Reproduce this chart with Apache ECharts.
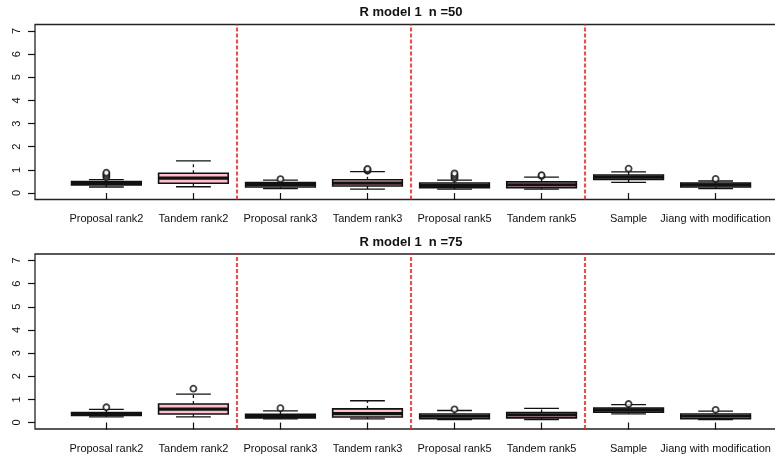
<!DOCTYPE html>
<html>
<head>
<meta charset="utf-8">
<script src="https://cdn.jsdelivr.net/npm/echarts@6/dist/echarts.min.js"></script>
<style>
  html, body { margin: 0; padding: 0; background: #fff; }
  #chart { width: 775px; height: 457px; }
</style>
</head>
<body>
<div id="chart"></div>
<script>
// Method names along the x axis (positions 1..8)
const categories = [
  'Proposal rank2', 'Tandem rank2', 'Proposal rank3', 'Tandem rank3',
  'Proposal rank5', 'Tandem rank5', 'Sample', 'Jiang with modification'
];
const yTicks = [0, 1, 2, 3, 4, 5, 6, 7];
const groupSeparators = [2.5, 4.5, 6.5];

// n = 50: five-number summaries per method
const n50Low    = [0.26, 0.27, 0.19, 0.17, 0.17, 0.17, 0.46, 0.19];
const n50Q1     = [0.35, 0.42, 0.26, 0.30, 0.23, 0.23, 0.59, 0.26];
const n50Median = [0.42, 0.64, 0.36, 0.43, 0.33, 0.35, 0.69, 0.35];
const n50Q3     = [0.50, 0.855, 0.45, 0.57, 0.43, 0.48, 0.78, 0.43];
const n50High   = [0.58, 1.39, 0.56, 0.92, 0.56, 0.69, 0.91, 0.52];
// outliers as [method position, value]
const n50Outliers = [
  [1, 0.68], [1, 0.75], [1, 0.82], [1, 0.88],
  [3, 0.60],
  [4, 0.96], [4, 1.00], [4, 1.04],
  [5, 0.64], [5, 0.71], [5, 0.78], [5, 0.85],
  [6, 0.74], [6, 0.77],
  [7, 1.05],
  [8, 0.61]
];

// n = 75
const n75Low    = [0.24, 0.24, 0.16, 0.16, 0.13, 0.13, 0.37, 0.13];
const n75Q1     = [0.30, 0.37, 0.20, 0.24, 0.17, 0.20, 0.45, 0.16];
const n75Median = [0.37, 0.58, 0.29, 0.38, 0.27, 0.33, 0.55, 0.27];
const n75Q3     = [0.43, 0.80, 0.36, 0.59, 0.37, 0.43, 0.63, 0.37];
const n75High   = [0.57, 1.23, 0.50, 0.94, 0.52, 0.61, 0.77, 0.49];
const n75Outliers = [
  [1, 0.66],
  [2, 1.46],
  [3, 0.62],
  [5, 0.57],
  [7, 0.80],
  [8, 0.55]
];

// Box fill per method (Tandem variants are pink)
const boxFills = ['#FFFFFF', '#FFC0CB', '#FFFFFF', '#FFC0CB', '#FFFFFF', '#FFC0CB', '#FFFFFF', '#FFFFFF'];

const FONT = "'Liberation Sans', Arial, Helvetica, sans-serif";
const INK = '#111';

function boxRows(low, q1, med, q3, high) {
  return categories.map((c, i) => [i + 1, low[i], q1[i], med[i], q3[i], high[i], i]);
}

function renderBox(params, api) {
  const x = api.value(0);
  const lo = api.value(1), q1 = api.value(2), md = api.value(3), q3 = api.value(4), hi = api.value(5);
  const fill = boxFills[api.value(6)];
  const bw = api.size([0.8, 0])[0];
  const sw = api.size([0.4, 0])[0];
  const c = api.coord([x, md]);
  const cx = c[0];
  const yLo = api.coord([x, lo])[1];
  const yQ1 = api.coord([x, q1])[1];
  const yQ3 = api.coord([x, q3])[1];
  const yHi = api.coord([x, hi])[1];
  const yMd = c[1];
  const lineStyle = { stroke: INK, lineWidth: 1.3, fill: null };
  const dashStyle = { stroke: INK, lineWidth: 1.3, lineDash: [3, 3], fill: null };
  return {
    type: 'group',
    children: [
      { type: 'line', shape: { x1: cx, y1: yQ3, x2: cx, y2: yHi }, style: dashStyle },
      { type: 'line', shape: { x1: cx, y1: yQ1, x2: cx, y2: yLo }, style: dashStyle },
      { type: 'line', shape: { x1: cx - sw / 2, y1: yHi, x2: cx + sw / 2, y2: yHi }, style: lineStyle },
      { type: 'line', shape: { x1: cx - sw / 2, y1: yLo, x2: cx + sw / 2, y2: yLo }, style: lineStyle },
      { type: 'rect', shape: { x: cx - bw / 2, y: yQ3, width: bw, height: yQ1 - yQ3 },
        style: { fill: fill, stroke: INK, lineWidth: 1.6 } },
      { type: 'line', shape: { x1: cx - bw / 2, y1: yMd, x2: cx + bw / 2, y2: yMd },
        style: { stroke: INK, lineWidth: 3.2 } }
    ]
  };
}

const grids = [
  { left: 35, top: 24.5, width: 752, height: 175 },
  { left: 35, top: 254, width: 752, height: 175 }
];

function xAxisFor(gridIndex) {
  return {
    type: 'value', gridIndex: gridIndex, min: 0.18, max: 8.82,
    splitLine: { show: false },
    axisLine: { show: false },
    axisTick: { show: true, length: 7, customValues: categories.map((c, i) => i + 1),
      lineStyle: { color: INK, width: 1.2 } },
    axisLabel: {
      customValues: categories.map((c, i) => i + 1),
      formatter: v => categories[Math.round(v) - 1] || '',
      fontFamily: FONT, fontSize: 11, color: INK, margin: 14
    }
  };
}

function yAxisFor(gridIndex) {
  return {
    type: 'value', gridIndex: gridIndex, min: -0.28, max: 7.28,
    splitLine: { show: false },
    axisLine: { show: false },
    axisTick: { show: true, length: 7, customValues: yTicks, lineStyle: { color: INK, width: 1.2 } },
    axisLabel: {
      customValues: yTicks, rotate: 90,
      fontFamily: FONT, fontSize: 11, color: INK, margin: 13
    }
  };
}

function panelSeries(idx, rows, outliers) {
  return [
    {
      type: 'custom', xAxisIndex: idx, yAxisIndex: idx,
      renderItem: renderBox, data: rows, silent: true, z: 3,
      markLine: {
        silent: true, symbol: ['none', 'none'], label: { show: false },
        lineStyle: { color: '#ff1a1a', type: [4, 2], width: 1.6, opacity: 1 },
        emphasis: { disabled: true },
        data: groupSeparators.map(v => ({ xAxis: v }))
      }
    },
    {
      type: 'scatter', xAxisIndex: idx, yAxisIndex: idx, data: outliers,
      symbol: 'circle', symbolSize: 6, silent: true, z: 4,
      itemStyle: { color: '#fff', borderColor: INK, borderWidth: 1.8 }
    }
  ];
}

const chart = echarts.init(document.getElementById('chart'), null, { renderer: 'canvas' });
chart.setOption({
  animation: false,
  backgroundColor: '#fff',
  title: [
    { text: 'R model 1  n =50', left: 411, top: 6, textAlign: 'center', padding: 0,
      textStyle: { fontFamily: FONT, fontSize: 13, fontWeight: 'bold', color: INK } },
    { text: 'R model 1  n =75', left: 411, top: 236, textAlign: 'center', padding: 0,
      textStyle: { fontFamily: FONT, fontSize: 13, fontWeight: 'bold', color: INK } }
  ],
  grid: grids.map(g => Object.assign({
    show: true, borderColor: '#222', borderWidth: 1.3, backgroundColor: 'transparent',
    outerBoundsMode: 'none', containLabel: false
  }, g)),
  xAxis: [xAxisFor(0), xAxisFor(1)],
  yAxis: [yAxisFor(0), yAxisFor(1)],
  series: [
    ...panelSeries(0, boxRows(n50Low, n50Q1, n50Median, n50Q3, n50High), n50Outliers),
    ...panelSeries(1, boxRows(n75Low, n75Q1, n75Median, n75Q3, n75High), n75Outliers)
  ]
});
</script>
</body>
</html>
